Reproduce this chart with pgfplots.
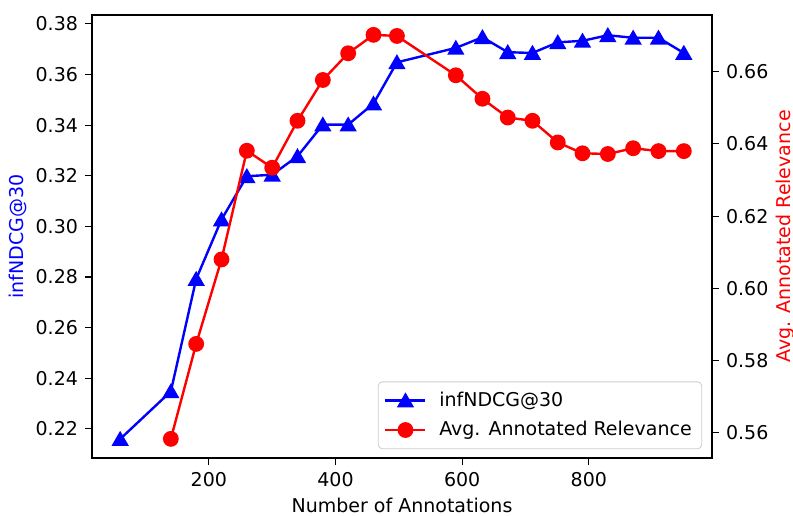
\documentclass[border=0pt]{standalone}
\usepackage{pgfplots}
\pgfplotsset{compat=1.18}
\usepackage{fontspec}
\setmainfont{DejaVu Sans}

\pgfplotstableread{
x y
60 0.2160
140 0.2348
180 0.2792
220 0.3027
260 0.3198
300 0.3204
340 0.3277
380 0.3402
420 0.3402
460 0.3485
497 0.3648
590 0.3705
632 0.3747
672 0.3688
711 0.3685
751 0.3727
790 0.3733
830 0.3755
870 0.3745
910 0.3745
950 0.3685
}\ndcg

\pgfplotstableread{
x y
140 0.5583
180 0.5846
220 0.6080
260 0.6381
300 0.6334
340 0.6464
380 0.6577
420 0.6651
460 0.6702
497 0.6699
590 0.6590
632 0.6525
672 0.6473
711 0.6464
751 0.6404
790 0.6374
830 0.6372
870 0.6388
910 0.6380
950 0.6380
}\rel

\pgfplotsset{
  common/.style={
    width=310pt, height=221.5pt, scale only axis,
    xmin=15.5, xmax=994.5,
    tick align=outside,
    major tick length=3.5pt,
    axis line style={line width=0.6pt, black},
    every tick/.style={black, line width=0.6pt},
    /pgf/number format/assume math mode=true,
    tick label style={font=\fontsize{9.5}{11}\selectfont},
    label style={font=\fontsize{9.5}{11}\selectfont},
  },
  legend image code/.code={\draw[mark repeat=2,mark phase=2] plot coordinates {(0pt,0pt) (10pt,0pt) (20pt,0pt)}; \path (24.3pt,0pt);},
}

\begin{document}
\begin{tikzpicture}[font=\fontsize{9.5}{11}\selectfont]
\path[use as bounding box] (-46pt,-28.5pt) rectangle (350.5pt,229pt);
\begin{axis}[common,
  at={(0,0)}, anchor=south west,
  ymin=0.2085, ymax=0.3835,
  xtick={200,400,600,800},
  ytick={0.22,0.24,0.26,0.28,0.30,0.32,0.34,0.36,0.38},
  xtick pos=bottom, ytick pos=left,
  yticklabel style={/pgf/number format/.cd, fixed, fixed zerofill, precision=2},
  xticklabel style={/pgf/number format/.cd, fixed},
  xlabel={Number of Annotations},
  ylabel={infNDCG@30},
  xlabel style={at={(axis description cs:0.5,-0.106)}, anchor=center},
  ylabel style={at={(axis description cs:-0.119,0.5)}, anchor=center, rotate=0, text=blue},
]
\addplot[blue, line width=1.2pt, mark=triangle*, mark size=3.8pt, mark options={yshift=-0.9pt}] table[x=x,y=y] {\ndcg};
\end{axis}
\begin{axis}[common,
  at={(0,0)}, anchor=south west,
  axis x line=none, axis y line*=right,
  ymin=0.553, ymax=0.6757,
  ytick={0.56,0.58,0.60,0.62,0.64,0.66},
  yticklabel style={/pgf/number format/.cd, fixed, fixed zerofill, precision=2},
  ylabel={Avg. Annotated Relevance},
  ylabel style={at={(axis description cs:1.118,0.5)}, anchor=center, rotate=0, text=red},
  legend cell align=left,
  legend style={at={(0.984,0.02)}, anchor=south east, draw=black!20, rounded corners=2pt, fill=white, font=\fontsize{9.5}{11}\selectfont, row sep=2pt, inner sep=3pt},
]
\addlegendimage{blue, line width=1.2pt, mark=triangle*, mark size=3.8pt, mark options={yshift=-0.9pt}}
\addlegendentry{infNDCG@30}
\addplot[red, line width=1.2pt, mark=*, mark size=3.35pt] table[x=x,y=y] {\rel};
\addlegendentry{Avg. Annotated Relevance}
\end{axis}
\end{tikzpicture}
\end{document}
